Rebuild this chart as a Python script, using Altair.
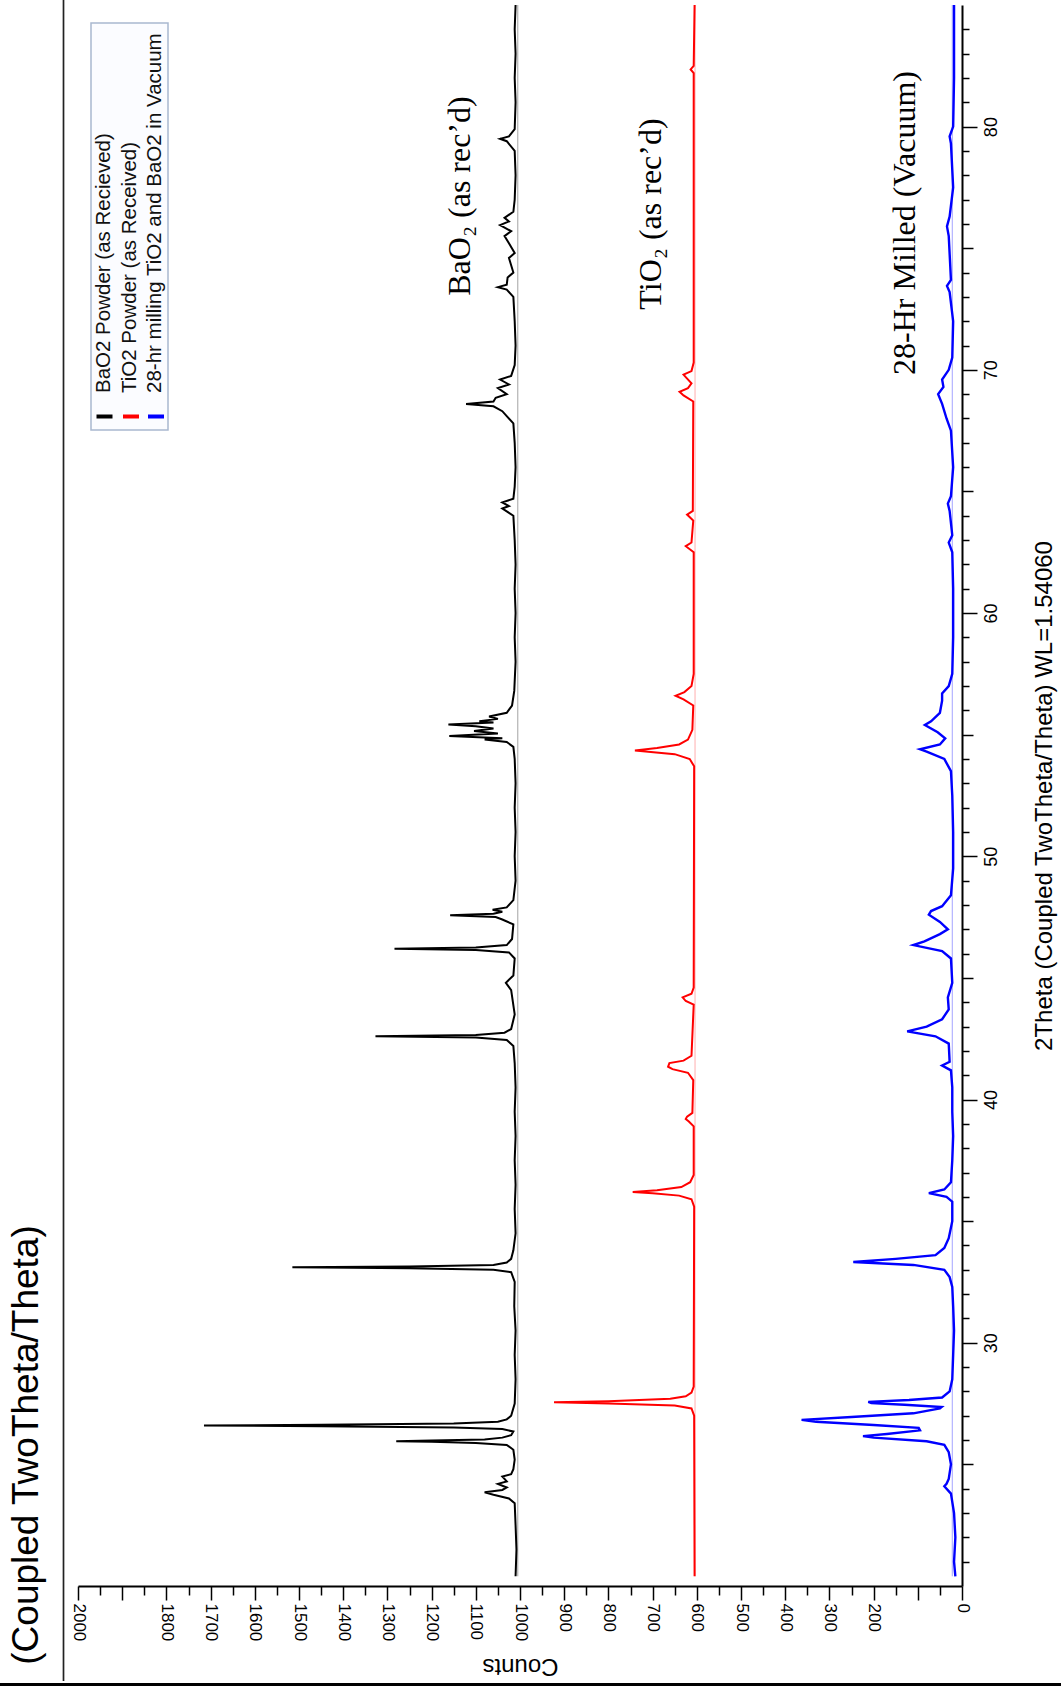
import altair as alt
import pandas as pd

# ---------------- data ----------------
series_names = [
    "BaO2 Powder (as Recieved)",
    "TiO2 Powder (as Received)",
    "28-hr milling TiO2 and BaO2 in Vacuum",
]

bao2_theta = [20.4, 21.5, 22.5, 23.4, 23.6, 23.75, 23.85, 23.95, 24.05, 24.2, 24.3, 24.5, 24.6, 24.8,
              25.2, 25.6, 25.8, 25.88, 25.93, 25.95, 25.98, 26.02, 26.1, 26.2, 26.35, 26.45, 26.52,
              26.57, 26.6, 26.63, 26.68, 26.75, 26.85, 27.0, 27.5, 28.5, 29.5, 30.5, 31.5, 32.5, 32.9,
              33.0, 33.06, 33.1, 33.14, 33.2, 33.3, 33.45, 33.8, 34.5, 35.5, 36.5, 37.5, 38.5, 39.5,
              40.5, 41.5, 42.2, 42.45, 42.55, 42.6, 42.65, 42.75, 42.9, 43.5, 44.5, 44.8, 45.1, 45.8,
              46.05, 46.15, 46.2, 46.25, 46.35, 46.6, 47.2, 47.4, 47.5, 47.58, 47.64, 47.72, 47.8,
              47.9, 48.2, 49.0, 50.0, 51.0, 52.0, 53.0, 54.0, 54.5, 54.7, 54.8, 54.85, 54.95, 55.05,
              55.15, 55.25, 55.35, 55.42, 55.5, 55.55, 55.65, 55.75, 55.9, 56.2, 56.8, 58.0, 59.0,
              60.0, 61.0, 62.0, 63.0, 64.0, 64.3, 64.4, 64.55, 64.7, 65.2, 66.0, 67.0, 67.8, 68.1,
              68.3, 68.5, 68.6, 68.7, 68.85, 69.0, 69.25, 69.4, 69.6, 69.75, 70.2, 71.0, 72.0, 73.0,
              73.3, 73.4, 73.5, 73.8, 74.0, 74.6, 74.8, 75.2, 75.5, 75.7, 75.95, 76.1, 76.25, 76.5,
              77.0, 78.0, 79.0, 79.4, 79.5, 79.6, 79.9, 81.0, 82.0, 83.0, 84.0, 85.0]
bao2_counts = [1010, 1008, 1010, 1012, 1025, 1060, 1080, 1040, 1030, 1050, 1030, 1040, 1020, 1015,
               1012, 1015, 1030, 1100, 1200, 1280, 1200, 1080, 1040, 1020, 1015, 1040, 1150,
               1450, 1715, 1450, 1150, 1050, 1030, 1020, 1012, 1010, 1012, 1010, 1013, 1012, 1020,
               1060, 1250, 1515, 1250, 1060, 1030, 1020, 1015, 1010, 1012, 1010, 1012, 1010, 1012,
               1010, 1012, 1015, 1030, 1100, 1327, 1100, 1035, 1020, 1012, 1020, 1032, 1015, 1012,
               1025, 1100, 1284, 1100, 1030, 1018, 1015, 1040, 1055, 1158, 1060, 1040, 1062,
               1030, 1015, 1010, 1012, 1010, 1012, 1010, 1012, 1015, 1030, 1080, 1040, 1160, 1050,
               1104, 1060, 1100, 1162, 1060, 1092, 1050, 1070, 1030, 1018, 1013, 1010, 1012,
               1010, 1012, 1010, 1012, 1015, 1040, 1025, 1040, 1015, 1012, 1010, 1012, 1015, 1030,
               1040, 1060, 1122, 1060, 1055, 1030, 1050, 1025, 1045, 1020, 1012, 1010, 1012, 1015,
               1030, 1050, 1030, 1028, 1015, 1025, 1012, 1025, 1035, 1020, 1045, 1025, 1035, 1015,
               1012, 1010, 1012, 1030, 1045, 1025, 1012, 1010, 1012, 1010, 1012, 1010]

tio2_theta = [20.4, 27.0, 27.3, 27.42, 27.5, 27.55, 27.6, 27.7, 27.8, 27.95, 28.2, 35.6, 35.9, 36.05,
              36.15, 36.2, 36.27, 36.4, 36.6, 36.9, 38.9, 39.1, 39.2, 39.3, 39.45, 40.8, 41.1, 41.25,
              41.35, 41.5, 41.6, 41.8, 43.9, 44.05, 44.2, 44.35, 44.6, 53.7, 54.0, 54.2, 54.35, 54.45,
              54.6, 54.8, 55.2, 56.2, 56.45, 56.6, 56.75, 57.0, 57.5, 62.5, 62.75, 62.9, 63.8, 64.05,
              64.2, 68.7, 68.95, 69.1, 69.25, 69.45, 69.7, 69.8, 69.95, 70.3, 82.2, 82.35, 82.5, 85.0]
tio2_counts = [605, 606, 612, 650, 800, 923, 800, 660, 625, 612, 607, 606, 612, 640,
               700, 745, 690, 635, 615, 607, 607, 618, 625, 622, 610, 608, 620, 655,
               665, 662, 630, 612, 607, 625, 632, 612, 607, 606, 616, 650, 740, 690,
               640, 620, 610, 608, 630, 648, 628, 612, 607, 607, 625, 612, 608, 622,
               609, 608, 630, 639, 620, 612, 625, 630, 612, 607, 607, 614, 607, 605]

mill_theta = [20.4, 21.0, 22.0, 23.0, 23.8, 24.1, 24.2, 24.4, 25.0, 25.5, 25.8, 25.95, 26.1, 26.16,
              26.25, 26.4, 26.5, 26.62, 26.75, 26.83, 26.95, 27.1, 27.3, 27.36, 27.45, 27.52, 27.57,
              27.65, 27.75, 28.0, 28.5, 29.5, 30.5, 31.5, 32.3, 32.7, 33.0, 33.2, 33.32, 33.45, 33.6,
              33.9, 34.3, 35.0, 35.8, 36.0, 36.15, 36.3, 36.6, 37.5, 38.5, 39.5, 40.5, 41.2, 41.4,
              41.55, 42.3, 42.6, 42.8, 43.0, 43.3, 43.7, 44.2, 44.8, 45.8, 46.1, 46.35, 46.5, 46.8,
              47.0, 47.3, 47.6, 47.75, 47.95, 48.4, 49.5, 51.0, 52.5, 53.5, 54.0, 54.3, 54.4, 54.6,
              54.85, 55.1, 55.4, 55.55, 55.9, 56.4, 56.7, 57.0, 57.5, 59.0, 61.0, 62.5, 62.9, 63.2,
              64.2, 64.5, 64.8, 66.0, 67.5, 68.0, 68.6, 69.0, 69.3, 69.6, 70.0, 70.5, 72.0, 73.2,
              73.45, 73.7, 75.5, 75.9, 76.3, 77.5, 79.3, 79.6, 80.0, 82.0, 85.0]
mill_counts = [15, 18, 15, 18, 25, 40, 35, 30, 25, 30, 40, 80, 200, 224,
               170, 95, 98, 200, 330, 363, 250, 110, 50, 46, 130, 205, 212,
               120, 45, 28, 22, 20, 18, 20, 22, 28, 40, 110, 246, 150, 60,
               40, 30, 22, 22, 35, 75, 40, 25, 22, 20, 22, 22, 25, 45,
               28, 30, 60, 124, 80, 45, 30, 32, 22, 25, 45, 110, 85, 50,
               32, 50, 75, 70, 45, 25, 20, 20, 22, 25, 40, 80, 95, 50,
               38, 55, 84, 70, 50, 45, 45, 30, 22, 20, 20, 22, 30, 22,
               28, 32, 25, 20, 25, 35, 45, 54, 42, 45, 30, 22, 20, 28,
               34, 25, 30, 34, 28, 20, 25, 28, 20, 18, 18]

background_levels = [1005, 604, 22]
background_theta = [20.4, 85.0]

x_tick_values = list(range(0, 2001, 50))
y_tick_values = list(range(21, 85))

annotation_texts = ["BaO\u2082 (as rec\u2019d)", "TiO\u2082 (as rec\u2019d)", "28-Hr Milled (Vacuum)"]
chart_title = "(Coupled TwoTheta/Theta)"
x_title = "Counts"
y_title = "2Theta (Coupled TwoTheta/Theta) WL=1.54060"

# ---------------- styles ----------------
series_colors = ["#000000", "#ff0000", "#0000ff"]
series_widths = [2.0, 2.0, 2.4]
background_colors = ["#8c8c8c", "#ff9a9a", "#8c8cff"]
SANS = "Liberation Sans"
SERIF = "Liberation Serif"
W, H = 884, 1581

x_enc = alt.X(
    "counts:Q",
    scale=alt.Scale(domain=[0, 2000], reverse=True, nice=False, zero=False),
    axis=alt.Axis(
        orient="bottom", values=x_tick_values, format="d",
        labelExpr="(datum.value % 100 === 0 && datum.value !== 1900 && datum.value !== 100) ? datum.label : ''",
        labelAngle=90, labelAlign="left", labelBaseline="middle", labelPadding=3,
        labelFont=SANS, labelFontSize=17, labelColor="black",
        labelOverlap=False, labelFlush=False, labelBound=False,
        tickSize={"condition": {"test": "datum.value % 100 === 0", "value": 14}, "value": 9},
        tickColor="black", tickWidth=1.5, domainColor="black", domainWidth=2, grid=False,
        title=x_title, titleAngle=180, titleFont=SANS, titleFontSize=24, titleFontWeight="normal",
        titleColor="black", titleAlign="center", titleBaseline="middle", titleX=W / 2, titleY=79,
    ),
)
y_enc = alt.Y(
    "theta:Q",
    scale=alt.Scale(domain=[20, 85], nice=False, zero=False),
    axis=alt.Axis(
        orient="right", values=y_tick_values, format="d",
        labelExpr="datum.value % 10 === 0 ? datum.label : ''",
        labelAngle=270, labelAlign="center", labelBaseline="top", labelPadding=5,
        labelFont=SANS, labelFontSize=18, labelColor="black",
        labelOverlap=False, labelFlush=False, labelBound=False,
        tickSize={"condition": [{"test": "datum.value % 10 === 0", "value": 15},
                                {"test": "datum.value % 5 === 0", "value": 11}], "value": 7},
        tickColor="black", tickWidth=1.5, domainColor="black", domainWidth=2, grid=False,
        title=y_title, titleAngle=270, titleFont=SANS, titleFontSize=24, titleFontWeight="normal",
        titleColor="black", titleAlign="center", titleBaseline="middle", titleX=82, titleY=H / 2,
    ),
)

layers = []
all_theta = [bao2_theta, tio2_theta, mill_theta]
all_counts = [bao2_counts, tio2_counts, mill_counts]
for i, name in enumerate(series_names):
    bg = pd.DataFrame({"theta": background_theta, "counts": [background_levels[i]] * 2})
    layers.append(alt.Chart(bg).mark_line(color=background_colors[i], strokeWidth=0.8).encode(
        x=x_enc, y=y_enc, order="theta:Q"))
for i, name in enumerate(series_names):
    df = pd.DataFrame({"theta": all_theta[i], "counts": all_counts[i]})
    layers.append(alt.Chart(df).mark_line(color=series_colors[i], strokeWidth=series_widths[i],
                                          strokeJoin="miter").encode(
        x=x_enc, y=y_enc, order="theta:Q"))

one = pd.DataFrame({"k": [0]})

# legend box
layers.append(alt.Chart(one).mark_rect(fill="#fbfcff", stroke="#a9b8d0", strokeWidth=1.5).encode(
    x=alt.value(13), x2=alt.value(90), y=alt.value(18), y2=alt.value(425)))
legend_x = [25.5, 52, 77]
for i, name in enumerate(series_names):
    layers.append(alt.Chart(one).mark_text(
        text=name, angle=270, align="left", baseline="middle", font=SANS, fontSize=20.5, color="#111"
    ).encode(x=alt.value(legend_x[i]), y=alt.value(388)))
    layers.append(alt.Chart(one).mark_rule(color=series_colors[i], strokeWidth=4).encode(
        x=alt.value(legend_x[i] - 7), x2=alt.value(legend_x[i] + 9), y=alt.value(411.5)))

# annotations
ann_pos = [(382, 191), (573, 209), (827, 218)]
for txt, (ax, ay) in zip(annotation_texts, ann_pos):
    layers.append(alt.Chart(one).mark_text(
        text=txt, angle=270, align="center", baseline="middle", font=SERIF, fontSize=32, color="black"
    ).encode(x=alt.value(ax), y=alt.value(ay)))

# big rotated title
layers.append(alt.Chart(one).mark_text(
    text=chart_title, angle=270, align="center", baseline="middle", font=SANS, fontSize=37, color="black"
).encode(x=alt.value(-51), y=alt.value(1440)))

# page frame lines
layers.append(alt.Chart(one).mark_rule(color="#222", strokeWidth=1.7).encode(
    x=alt.value(-14.5), y=alt.value(-5), y2=alt.value(1676)))
layers.append(alt.Chart(one).mark_rule(color="black", strokeWidth=3).encode(
    x=alt.value(-78), x2=alt.value(983), y=alt.value(1679.5)))

chart = alt.layer(*layers).properties(
    width=W, height=H,
    autosize=alt.AutoSizeParams(type="none"),
    padding={"left": 78, "top": 5, "right": 99, "bottom": 100},
    background="white",
).configure_view(strokeOpacity=0)

chart.save("out.html", embed_options={"renderer": "svg", "actions": False})
